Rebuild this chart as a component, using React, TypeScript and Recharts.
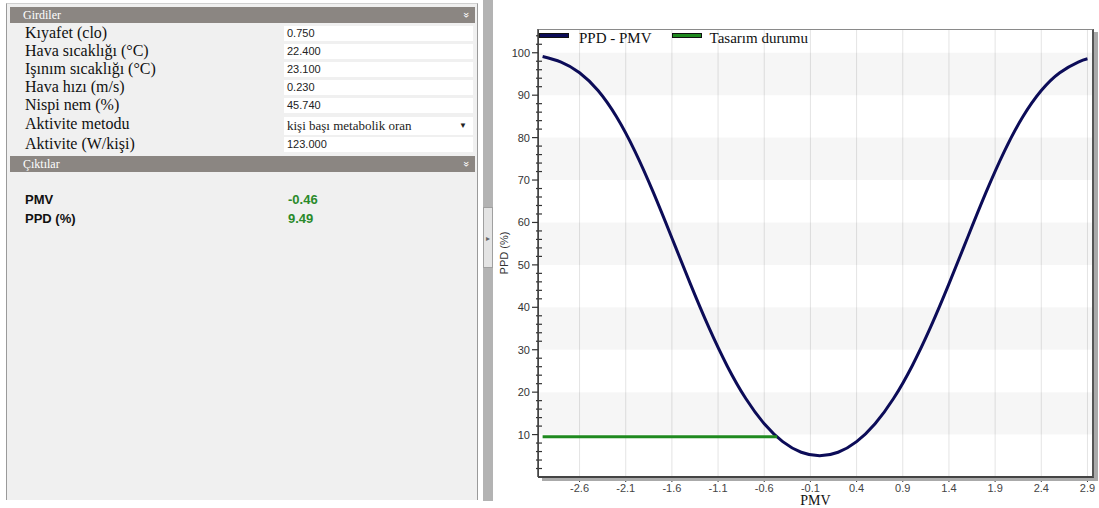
import React from 'react';
import {
  LineChart,
  Line,
  XAxis,
  YAxis,
  CartesianGrid,
  Legend,
  ReferenceArea,
} from 'recharts';

// PPD - PMV curve
const pmvValues = [
  -3.0, -2.8, -2.6, -2.4, -2.2, -2.0, -1.8, -1.6, -1.4, -1.2, -1.0, -0.8, -0.6, -0.4, -0.2,
  0.0, 0.2, 0.4, 0.6, 0.8, 1.0, 1.2, 1.4, 1.6, 1.8, 2.0, 2.2, 2.4, 2.6, 2.8, 2.9,
];
const ppdValues = [
  99.12, 97.81, 95.3, 91.1, 84.91, 76.76, 67.02, 56.34, 45.51, 35.25, 26.12, 18.49, 12.55, 8.33, 5.83,
  5.0, 5.83, 8.33, 12.55, 18.49, 26.12, 35.25, 45.51, 56.34, 67.02, 76.76, 84.91, 91.1, 95.3, 97.81, 98.58,
];

// design condition (Tasarım durumu)
const designPmv = [-3.0, -0.46];
const designPpd = [9.49, 9.49];

const xTicks = [-2.6, -2.1, -1.6, -1.1, -0.6, -0.1, 0.4, 0.9, 1.4, 1.9, 2.4, 2.9];
const yTicks = [
  2, 4, 6, 8, 10, 12, 14, 16, 18, 20, 22, 24, 26, 28, 30, 32, 34, 36, 38, 40, 42, 44, 46, 48, 50,
  52, 54, 56, 58, 60, 62, 64, 66, 68, 70, 72, 74, 76, 78, 80, 82, 84, 86, 88, 90, 92, 94, 96, 98, 100,
  102, 104,
];
const bandStarts = [10, 30, 50, 70, 90];

// left panel texts
const inputLabels = [
  'Kıyafet (clo)',
  'Hava sıcaklığı (°C)',
  'Işınım sıcaklığı (°C)',
  'Hava hızı (m/s)',
  'Nispi nem (%)',
  'Aktivite metodu',
  'Aktivite (W/kişi)',
];
const inputValues = ['0.750', '22.400', '23.100', '0.230', '45.740', 'kişi başı metabolik oran', '123.000'];
const outputLabels = ['PMV', 'PPD (%)'];
const outputValues = ['-0.46', '9.49'];

const SERIF = '"Liberation Serif", "Times New Roman", serif';
const SANS = '"Liberation Sans", Arial, sans-serif';

const curveData = pmvValues.map((x, i) => ({ pmv: x, ppd: ppdValues[i] }));
const designData = designPmv.map((x, i) => ({ pmv: x, ppd: designPpd[i] }));

const rowTops = [26, 44, 62, 80, 98, 117, 137];

const YTick = (props: any) => {
  const { x, y, payload } = props;
  const v = payload.value;
  const major = v % 10 === 0 && v <= 100;
  return (
    <g>
      <line
        x1={major ? x - 6 : x - 2}
        x2={major ? x : x + 4}
        y1={y}
        y2={y}
        stroke="#333"
        strokeWidth={1.2}
      />
      {major && (
        <text x={x - 8} y={y} dy={4} textAnchor="end" fontSize={11} fill="#333" fontFamily={SANS}>
          {v}
        </text>
      )}
    </g>
  );
};

const renderLegend = (props: any) => {
  const { payload } = props;
  return (
    <div style={{ display: 'flex', alignItems: 'flex-start', fontFamily: SERIF, fontSize: 15, color: '#111', lineHeight: '18px', whiteSpace: 'nowrap' }}>
      {(payload || []).map((entry: any, i: number) => (
        <div key={i} style={{ display: 'flex', alignItems: 'flex-start', marginRight: 20 }}>
          <span
            style={{
              display: 'inline-block',
              width: 30,
              height: 5,
              marginTop: 4,
              marginRight: i === 0 ? 10 : 8,
              background: entry.color,
              border: '1px solid #111',
              boxSizing: 'border-box',
            }}
          />
          <span>{entry.value}</span>
        </div>
      ))}
    </div>
  );
};

const SectionHeader = ({ title, top }: { title: string; top: number }) => (
  <div
    style={{
      position: 'absolute',
      left: 10,
      top,
      width: 465,
      height: 16,
      background: '#8b8682',
      color: '#fff',
      fontFamily: SERIF,
      fontSize: 12,
      lineHeight: '16px',
    }}
  >
    <span style={{ position: 'absolute', left: 13 }}>{title}</span>
    <span style={{ position: 'absolute', right: 6, top: 0, fontSize: 10, transform: 'rotate(90deg)', fontFamily: SANS }}>»</span>
  </div>
);

export default function App() {
  return (
    <div style={{ position: 'absolute', left: 0, top: 0, width: 1099, height: 508, background: '#fff', overflow: 'hidden' }}>
      {/* left panel */}
      <div
        style={{
          position: 'absolute',
          left: 6,
          top: 3,
          width: 472,
          height: 497,
          background: '#f0f0f0',
          borderLeft: '1px solid #9a9a9a',
          borderRight: '1px solid #9a9a9a',
          borderTop: '1px solid #d0d0d0',
          boxSizing: 'border-box',
        }}
      />
      <SectionHeader title="Girdiler" top={7} />
      {inputLabels.map((label, i) => (
        <React.Fragment key={label}>
          <div
            style={{
              position: 'absolute',
              left: 25,
              top: rowTops[i] - 2,
              fontFamily: SERIF,
              fontSize: 16,
              lineHeight: '18px',
              color: '#111',
              whiteSpace: 'nowrap',
            }}
          >
            {label}
          </div>
          <div
            style={{
              position: 'absolute',
              left: 284,
              top: rowTops[i],
              width: 189,
              height: i === 5 ? 18 : 15,
              background: '#fff',
              fontFamily: i === 5 ? SERIF : SANS,
              fontSize: i === 5 ? 13 : 11,
              lineHeight: i === 5 ? '18px' : '15px',
              color: '#222',
              paddingLeft: 3,
              boxSizing: 'border-box',
            }}
          >
            {inputValues[i]}
            {i === 5 && (
              <span style={{ position: 'absolute', right: 6, top: 0, fontSize: 8, fontFamily: SANS }}>▼</span>
            )}
          </div>
        </React.Fragment>
      ))}
      <SectionHeader title="Çıktılar" top={156} />
      {outputLabels.map((label, i) => (
        <React.Fragment key={label}>
          <div
            style={{
              position: 'absolute',
              left: 25,
              top: 192 + i * 19,
              fontFamily: SANS,
              fontWeight: 'bold',
              fontSize: 13,
              lineHeight: '16px',
              color: '#111',
            }}
          >
            {label}
          </div>
          <div
            style={{
              position: 'absolute',
              left: 288,
              top: 192 + i * 19,
              fontFamily: SANS,
              fontWeight: 'bold',
              fontSize: 13,
              lineHeight: '16px',
              color: '#2a8a2a',
            }}
          >
            {outputValues[i]}
          </div>
        </React.Fragment>
      ))}

      {/* splitter */}
      <div style={{ position: 'absolute', left: 483, top: 0, width: 10, height: 501, background: '#b3b3b3' }} />
      <div
        style={{
          position: 'absolute',
          left: 483,
          top: 207,
          width: 10,
          height: 61,
          background: '#e4e4e4',
          border: '1px solid #a0a0a0',
          boxSizing: 'border-box',
          fontSize: 8,
          color: '#666',
          lineHeight: '61px',
          textAlign: 'center',
          fontFamily: SANS,
        }}
      >
        ▸
      </div>

      {/* chart */}
      <div style={{ position: 'absolute', left: 493, top: 0, width: 606, height: 508 }}>
        <LineChart width={606} height={508} margin={{ top: 29, right: 6, bottom: 0, left: 0 }}>
          {bandStarts.map((b) => (
            <ReferenceArea key={b} y1={b} y2={b + 10} fill="#000" fillOpacity={0.035} stroke="none" ifOverflow="hidden" />
          ))}
          <CartesianGrid horizontal={false} stroke="#e4e4e4" />
          <XAxis
            type="number"
            dataKey="pmv"
            domain={[-3.05, 2.96]}
            ticks={xTicks}
            interval={0}
            allowDataOverflow
            height={31}
            tickSize={5}
            tickMargin={2}
            tick={{ fontSize: 11, fill: '#444', fontFamily: SANS }}
            tickLine={{ stroke: '#333' }}
            axisLine={{ stroke: '#444', strokeWidth: 2 }}
            label={{ value: 'PMV', position: 'insideBottom', offset: 3, fontSize: 14, fill: '#111', fontFamily: SERIF }}
          />
          <YAxis
            type="number"
            domain={[0, 105.6]}
            ticks={yTicks}
            interval={0}
            allowDataOverflow
            width={45}
            tickSize={0}
            tickMargin={0}
            tickLine={false}
            tick={YTick}
            axisLine={{ stroke: '#444', strokeWidth: 1.5 }}
            label={{
              value: 'PPD (%)',
              angle: -90,
              position: 'insideLeft',
              offset: 11,
              fontSize: 11,
              fill: '#333',
              fontFamily: SANS,
              style: { textAnchor: 'middle' },
            }}
          />
          <Legend
            layout="horizontal"
            verticalAlign="middle"
            align="center"
            content={renderLegend}
            wrapperStyle={{ left: 46, top: 29, width: 'auto' }}
          />
          <Line
            data={curveData}
            dataKey="ppd"
            name="PPD - PMV"
            type="natural"
            stroke="#0c0c58"
            strokeWidth={3}
            dot={false}
            isAnimationActive={false}
          />
          <Line
            data={designData}
            dataKey="ppd"
            name="Tasarım durumu"
            type="linear"
            stroke="#1f8a1f"
            strokeWidth={3}
            dot={false}
            isAnimationActive={false}
          />
        </LineChart>
      </div>

      {/* plot frame with shadow */}
      <div
        style={{
          position: 'absolute',
          left: 538,
          top: 29,
          width: 556,
          height: 449,
          borderTop: '1px solid #8a8a8a',
          borderRight: '2px solid #555',
          borderBottom: '2px solid #444',
          borderLeft: '1px solid #444',
          boxSizing: 'border-box',
          boxShadow: '4px 3px 0 #aaa',
          pointerEvents: 'none',
        }}
      />
    </div>
  );
}
